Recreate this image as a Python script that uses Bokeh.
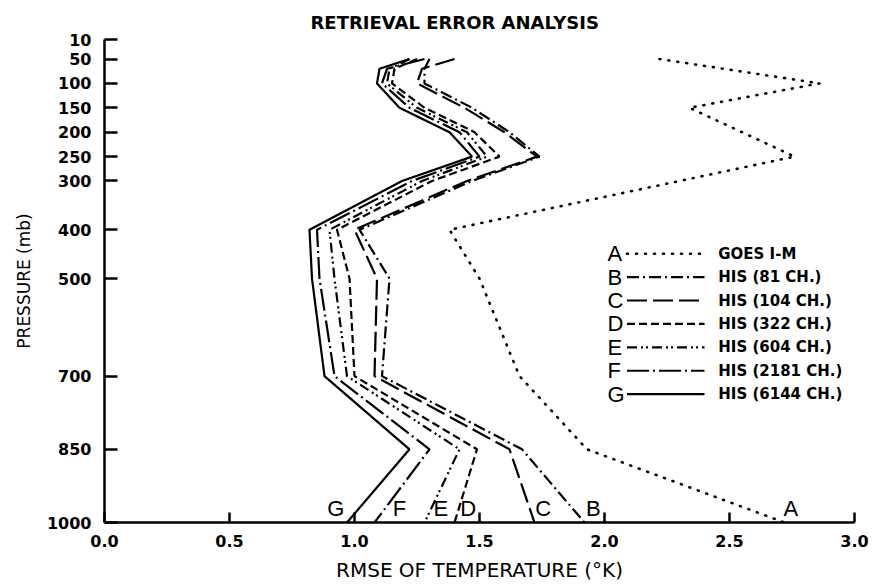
from bokeh.plotting import figure
from bokeh.models import Range1d, FixedTicker
from bokeh.core.properties import value
from bokeh.embed import file_html
from bokeh.resources import INLINE

# ---- data ----
levels = [50, 70, 100, 150, 200, 250, 300, 400, 500, 700, 850, 1000]
goes_levels = [50, 100, 150, 250, 400, 500, 700, 850, 1000]
goes_A = [2.22, 2.86, 2.34, 2.76, 1.38, 1.50, 1.66, 1.93, 2.72]
his_B = [1.30, 1.28, 1.28, 1.47, 1.62, 1.74, 1.47, 1.02, 1.14, 1.11, 1.67, 1.92]
his_C = [1.40, 1.27, 1.25, 1.44, 1.60, 1.73, 1.45, 1.00, 1.09, 1.08, 1.62, 1.72]
his_D = [1.25, 1.16, 1.15, 1.28, 1.48, 1.58, 1.31, 0.93, 0.98, 1.00, 1.49, 1.40]
his_E = [1.22, 1.14, 1.13, 1.25, 1.45, 1.53, 1.27, 0.90, 0.92, 0.97, 1.42, 1.28]
his_F = [1.28, 1.13, 1.11, 1.22, 1.42, 1.50, 1.23, 0.85, 0.86, 0.92, 1.30, 1.08]
his_G = [1.22, 1.10, 1.09, 1.18, 1.38, 1.47, 1.19, 0.82, 0.83, 0.88, 1.22, 0.97]

letters = ["A", "B", "C", "D", "E", "F", "G"]
legend_names = ["GOES I-M", "HIS (81 CH.)", "HIS (104 CH.)", "HIS (322 CH.)",
                "HIS (604 CH.)", "HIS (2181 CH.)", "HIS (6144 CH.)"]
end_label_x = [2.745, 1.955, 1.755, 1.455, 1.345, 1.18, 0.925]

y_ticks = [10, 50, 100, 150, 200, 250, 300, 400, 500, 700, 850, 1000]
x_ticks = [0.0, 0.5, 1.0, 1.5, 2.0, 2.5, 3.0]
x_tick_labels = ["0.0", "0.5", "1.0", "1.5", "2.0", "2.5", "3.0"]

# ---- styles ----
dashes = ["1 8", "12 4 2 4", "20 6", "8 4", "10 4 2 3 2 4", "22 4 2 4", "solid"]
caps = ["round", "butt", "butt", "butt", "butt", "butt", "butt"]
widths = [2.6, 2.2, 2.2, 2.2, 2.2, 2.2, 2.2]
FONT = "DejaVu Sans"

p = figure(width=875, height=586, x_range=Range1d(0, 3.0), y_range=Range1d(1000, 10),
           min_border_left=104, min_border_right=21, min_border_top=39, min_border_bottom=64,
           output_backend="svg", toolbar_location=None)
p.outline_line_color = None
p.xgrid.visible = False
p.ygrid.visible = False
p.background_fill_color = "white"
p.border_fill_color = "white"

p.title.text = "RETRIEVAL ERROR ANALYSIS"
p.title.align = "left"
p.title.offset = 206
p.title.text_font = FONT
p.title.text_font_size = "18px"
p.title.text_font_style = "bold"
p.title.text_color = "black"
p.title.standoff = 14

for ax in (p.xaxis[0], p.yaxis[0]):
    ax.axis_line_width = 2.5
    ax.axis_line_color = "black"
    ax.major_tick_line_width = 2.5
    ax.major_tick_line_color = "black"
    ax.major_tick_out = 0
    ax.minor_tick_line_color = None
    ax.major_label_text_font = FONT
    ax.major_label_text_font_size = "16px"
    ax.major_label_text_font_style = "bold"
    ax.major_label_text_color = "black"
    ax.axis_label_text_font = FONT
    ax.axis_label_text_color = "black"

p.yaxis.ticker = FixedTicker(ticks=y_ticks)
p.yaxis.major_tick_in = 13
p.yaxis.major_label_standoff = 13
p.yaxis.axis_label = "PRESSURE (mb)"
p.yaxis.axis_label_text_font_size = "17px"
p.yaxis.axis_label_text_font_style = "normal"
p.yaxis.axis_label_standoff = 10

p.xaxis.ticker = FixedTicker(ticks=x_ticks)
p.xaxis.major_label_overrides = {t: s for t, s in zip(x_ticks, x_tick_labels)}
p.xaxis.major_tick_in = 10
p.xaxis.major_label_standoff = 12
p.xaxis.axis_label = "RMSE OF TEMPERATURE (\u00b0K)"
p.xaxis.axis_label_text_font_size = "20px"
p.xaxis.axis_label_text_font_style = "normal"
p.xaxis.axis_label_standoff = 8

series = [(goes_A, goes_levels), (his_B, levels), (his_C, levels), (his_D, levels),
          (his_E, levels), (his_F, levels), (his_G, levels)]
for (xs, ys), d, c, w in zip(series, dashes, caps, widths):
    p.line(xs, ys, line_color="black", line_width=w, line_dash=d, line_cap=c)

# letters at the bottom of each curve
p.text(x=end_label_x, y=[1000] * 7, text=letters, text_font=value("Liberation Sans"),
       text_font_size="22px", text_align="center", text_baseline="bottom", y_offset=-2,
       text_color="black")

# legend (drawn manually)
leg_top, leg_step = 449, 48
leg_y = [leg_top + i * leg_step for i in range(7)]
leg_letter_x, leg_line_x0, leg_line_x1, leg_text_x = 2.012, 2.09, 2.40, 2.455
p.text(x=[leg_letter_x] * 7, y=leg_y, text=letters, text_font=value("Liberation Sans"),
       text_font_size="22px", text_align="left", text_baseline="middle", text_color="black")
for yy, d, c, w in zip(leg_y, dashes, caps, widths):
    p.line([leg_line_x0, leg_line_x1], [yy, yy], line_color="black", line_width=w,
           line_dash=d, line_cap=c)
p.text(x=[leg_text_x] * 7, y=leg_y, text=legend_names, text_font=value(FONT),
       text_font_size="15px", text_font_style="bold", text_align="left",
       text_baseline="middle", text_color="black")

open("out.html", "w").write(file_html(p, INLINE))
